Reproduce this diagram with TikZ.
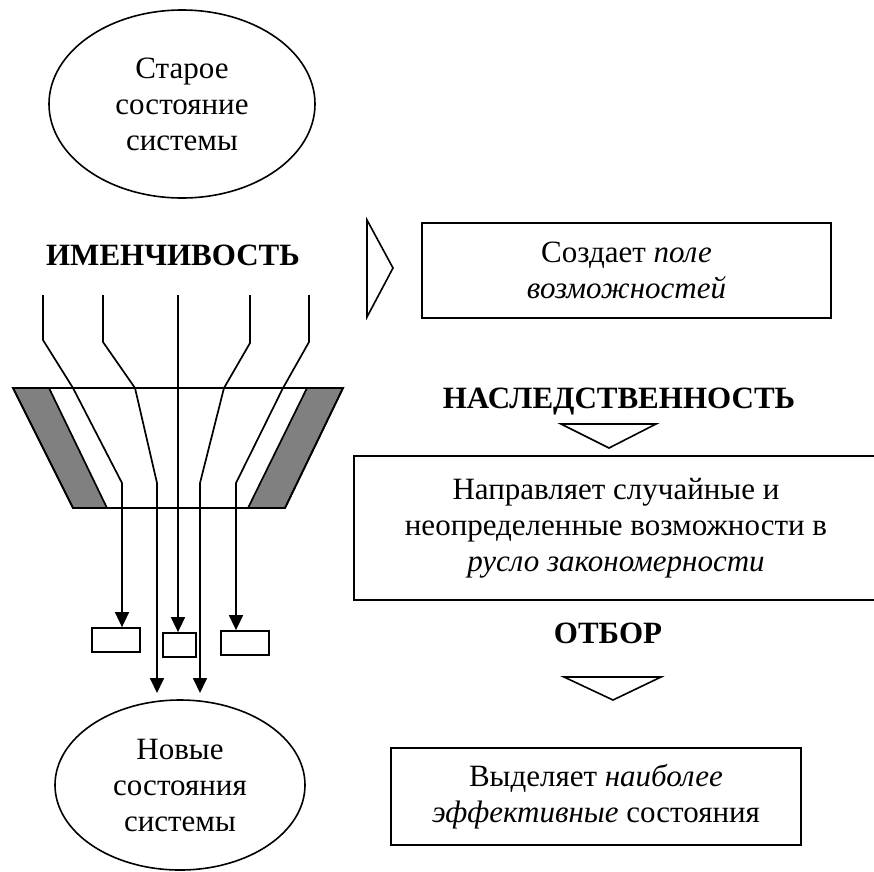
\documentclass[tikz,border=0pt]{standalone}
\usepackage{fontspec}
\setmainfont{Liberation Serif}
\usetikzlibrary{arrows.meta,shapes.geometric}
\definecolor{wallgray}{HTML}{808080}
\begin{document}
\begin{tikzpicture}[x=1pt,y=-1pt,
  txt/.style={font=\fontsize{31}{36}\selectfont, align=center, inner sep=0pt},
  head/.style={font=\fontsize{31}{36}\selectfont\bfseries, inner sep=0pt},
  box/.style={draw, line width=1.8pt, txt},
  state/.style={draw, ellipse, line width=1.6pt, txt},
  cell/.style={draw, line width=1.8pt, inner sep=0pt},
  flow/.style={line width=1.7pt},
  flowarr/.style={flow, -{Triangle[length=15pt,width=14pt]}},
  pointer/.style={draw, line width=1.6pt, line join=miter},
  wall/.style={draw, line width=1.7pt, fill=wallgray},
]
\useasboundingbox (0,0) rectangle (874,871);

% system states
\node[state, minimum width=266pt, minimum height=188pt] (old) at (182,104)
  {Старое\\состояние\\системы};
\node[state, minimum width=250pt, minimum height=170pt] (new) at (180,785)
  {Новые\\состояния\\системы};

% headings
\node[head] (var) at (173,255) {ИМЕНЧИВОСТЬ};
\node[head] (her) at (619,402) {НАСЛЕДСТВЕННОСТЬ};
\node[head] (sel) at (608,633) {ОТБОР};

% explanation boxes
\node[box, minimum width=409pt, minimum height=95pt] (b1) at (626.5,270.5)
  {Создает \textit{поле}\\\textit{возможностей}};
\node[box, minimum width=524pt, minimum height=144pt] (b2) at (616,528)
  {Направляет случайные и\\неопределенные возможности в\\\textit{русло закономерности}};
\node[box, minimum width=410pt, minimum height=97pt] (b3) at (596,796.5)
  {Выделяет \textit{наиболее}\\\textit{эффективные} состояния};

% pointers
\draw[pointer] (367,220) -- (393,268) -- (367,317) -- cycle;
\draw[pointer] (561,424) -- (656,424) -- (609,448) -- cycle;
\draw[pointer] (564,677) -- (661,677) -- (613,700) -- cycle;

% funnel with its grey walls
\draw[wall] (13,388) -- (49,388) -- (107,508) -- (73,508) -- cycle;
\draw[wall] (307,388) -- (343,388) -- (285,508) -- (248,508) -- cycle;
\draw[line width=1.7pt, line join=miter] (13,388) -- (343,388) -- (285,508) -- (73,508) -- cycle;

% rejected variants
\node[cell, minimum width=48pt, minimum height=24pt] (c1) at (116,640) {};
\node[cell, minimum width=33pt, minimum height=24pt] (c2) at (179.5,645) {};
\node[cell, minimum width=48pt, minimum height=24pt] (c3) at (245,643) {};

% variation paths
\coordinate (p1) at (43,295);
\coordinate (p2) at (103,295);
\coordinate (p3) at (178,295);
\coordinate (p4) at (250,295);
\coordinate (p5) at (309,295);
\coordinate (k1) at (122,483);
\coordinate (k5) at (236,483);
\coordinate (e2) at (157,693);
\coordinate (e4) at (200,693);

\draw[flowarr] (p1) -- (43,340) -- (73,388) -- (k1) -- (k1 |- c1.north);
\draw[flowarr] (p2) -- (103,342) -- (135,388) -- (157,483) -- (e2);
\draw[flowarr] (p3) -- (p3 |- c2.north);
\draw[flowarr] (p4) -- (250,343) -- (224,388) -- (200,483) -- (e4);
\draw[flowarr] (p5) -- (309,342) -- (283,388) -- (k5) -- (k5 |- c3.north);
\end{tikzpicture}
\end{document}
